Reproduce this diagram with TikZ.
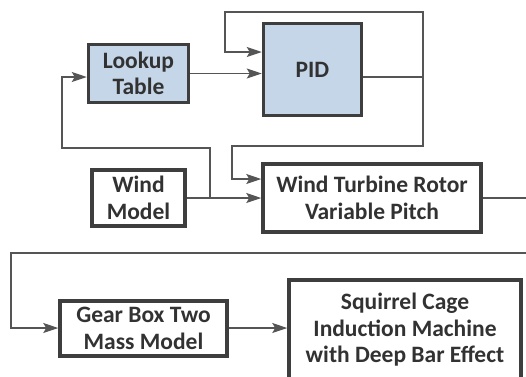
\documentclass[tikz,border=0pt]{standalone}
\usepackage{fontspec}
\setmainfont{Carlito}
\usetikzlibrary{arrows.meta}
\definecolor{boxblue}{RGB}{196,214,232}
\definecolor{boxline}{RGB}{62,62,62}
\definecolor{wireline}{RGB}{85,85,85}
\definecolor{txt}{RGB}{50,50,50}
\tikzset{
  blk/.style={draw=boxline, line width=3.5pt, fill=white, align=center, inner sep=0pt,
    font=\fontsize{23.5}{26.5}\selectfont\bfseries, text=txt},
  blkblue/.style={blk, fill=boxblue},
  wire/.style={draw=wireline, line width=1.3pt},
  arr/.style={wire, -{Stealth[length=15pt, width=10pt, inset=3pt]}}
}
\begin{document}
\begin{tikzpicture}[x=1pt, y=-1pt]
\useasboundingbox (0,0) rectangle (526,376);
\begin{scope}
\clip (0,0) rectangle (526,376);
\node[blkblue, minimum width=100pt, minimum height=58pt] (lookup) at (138.5,73.5) {Lookup\\Table};
\node[blkblue, minimum width=98pt, minimum height=92pt] (pid) at (312.5,69.5) {PID};
\node[blk, minimum width=93pt, minimum height=56pt] (wind) at (138.5,198) {Wind\\Model};
\node[blk, minimum width=218pt, minimum height=68pt] (wtr) at (372,198) {Wind Turbine Rotor\\Variable Pitch};
\node[blk, minimum width=167pt, minimum height=55pt] (gear) at (143.5,328.5) {Gear Box Two\\Mass Model};
\node[blk, minimum width=232pt, minimum height=100pt] (scim) at (405,330) {Squirrel Cage\\Induction Machine\\with Deep Bar Effect};

\coordinate (pidj) at (423,77);
\coordinate (windj) at (210,198);
\coordinate (wtrout) at (527,198);
\coordinate (wtrloop) at (527,253);

% lookup -> PID
\draw[arr] (lookup.east) -- (lookup.east -| pid.west);
% PID output
\draw[wire] (pid.east |- pidj) -- (pidj);
% PID self loop
\draw[arr] (pidj) -- (423,12) -- (225,12) -- (225,52) -- (pid.west |- 0,52);
% PID -> WTR
\draw[arr] (pidj) -- (423,146) -- (232,146) -- (232,179) -- (wtr.west |- 0,179);
% wind -> WTR
\draw[arr] (wind.east) -- (wtr.west);
% branch -> lookup
\draw[arr] (windj) -- (210,148) -- (62,148) -- (62,77) -- (lookup.west |- 0,77);
% WTR output
\draw[wire] (wtr.east) -- (wtrout);
\draw[arr] (wtrloop) -- (11,253) -- (11,328) -- (gear.west |- 0,328);
% gear -> scim
\draw[arr] (gear.east |- 0,328) -- (scim.west |- 0,328);
\end{scope}
\end{tikzpicture}
\end{document}
